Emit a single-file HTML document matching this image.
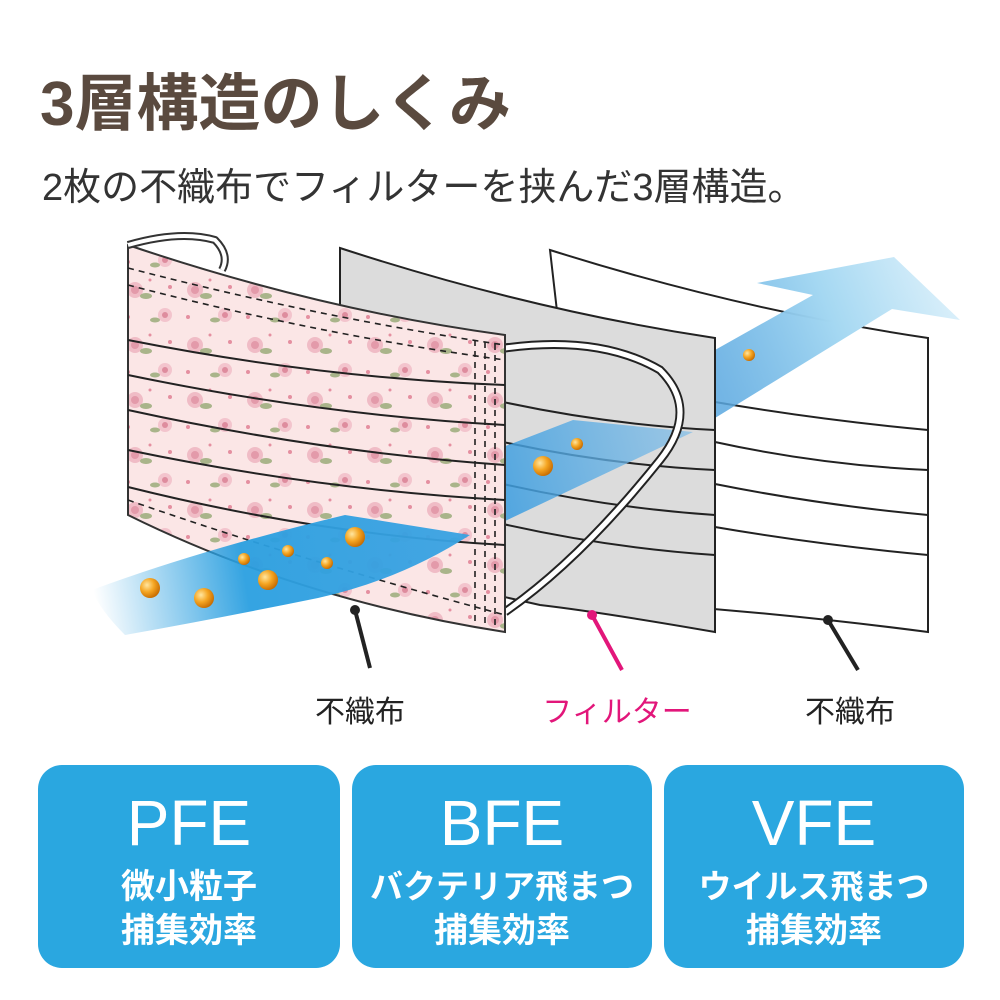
<!DOCTYPE html>
<html><head><meta charset="utf-8"><style>
body{margin:0;background:#fff;}
svg{display:block}
text{font-family:"Liberation Sans","Noto Sans CJK JP",sans-serif;}
</style></head><body>
<svg width="1000" height="1000" viewBox="0 0 1000 1000" xmlns="http://www.w3.org/2000/svg">
<defs>
<linearGradient id="ag1" x1="95" y1="600" x2="470" y2="540" gradientUnits="userSpaceOnUse">
<stop offset="0" stop-color="#2a9fe0" stop-opacity="0"/>
<stop offset="0.4" stop-color="#2a9fe0"/>
<stop offset="1" stop-color="#3aa2e2"/>
</linearGradient>
<linearGradient id="ag2" x1="503" y1="480" x2="690" y2="430" gradientUnits="userSpaceOnUse">
<stop offset="0" stop-color="#3d9ee0" stop-opacity="0.85"/>
<stop offset="1" stop-color="#7fbde8" stop-opacity="0.7"/>
</linearGradient>
<linearGradient id="ag3" x1="715" y1="380" x2="960" y2="280" gradientUnits="userSpaceOnUse">
<stop offset="0" stop-color="#5aa8e0" stop-opacity="0.85"/>
<stop offset="0.5" stop-color="#a5d8f2"/>
<stop offset="1" stop-color="#e0f2fb"/>
</linearGradient>
<pattern id="fl" width="60" height="55" patternUnits="userSpaceOnUse">
<rect width="60" height="55" fill="#fbe6e6"/>
<circle cx="15" cy="15" r="8" fill="#f0bcc6"/><circle cx="15" cy="15" r="4" fill="#e39aaa"/>
<ellipse cx="26" cy="21" rx="6" ry="3" fill="#a9b48a"/>
<circle cx="45" cy="40" r="7" fill="#f3c4cd"/><circle cx="45" cy="40" r="3" fill="#de8c9e"/>
<ellipse cx="35" cy="45" rx="5" ry="2.5" fill="#a9b48a"/>
<circle cx="50" cy="12" r="2" fill="#e58fa0"/><circle cx="8" cy="42" r="2" fill="#e58fa0"/><circle cx="30" cy="5" r="1.5" fill="#e58fa0"/>
</pattern>
<radialGradient id="ball" cx="0.35" cy="0.35" r="0.7">
<stop offset="0" stop-color="#ffe6a0"/><stop offset="0.5" stop-color="#f5a623"/><stop offset="1" stop-color="#c66a00"/>
</radialGradient>
</defs>
<text x="40" y="125" font-size="62" font-weight="bold" fill="#5a4a3f">3層構造のしくみ</text>
<text x="42" y="200" font-size="38" fill="#333">2枚の不織布でフィルターを挟んだ3層構造。</text>

<!-- white layer -->
<path d="M550 250 Q740 310 928 338 L928 632 Q760 610 590 600 Z" fill="#fff" stroke="#222" stroke-width="2"/>
<g fill="none" stroke="#222" stroke-width="2">
<path d="M715 402 Q820 420 928 430"/><path d="M715 442 Q820 465 928 470"/><path d="M715 484 Q820 505 928 515"/><path d="M715 527 Q820 545 928 555"/>
</g>
<!-- arrow after gray -->
<path d="M715 350 L813 295 L757 283 L894 257 L960 320 L892 309 L715 418 Z" fill="url(#ag3)"/>
<!-- gray layer -->
<path d="M340 248 Q530 310 715 338 L715 632 Q600 612 540 605 L340 560 Z" fill="#dcdcdc" stroke="#222" stroke-width="2"/>
<g fill="none" stroke="#222" stroke-width="2">
<path d="M503 402 Q610 425 715 430"/><path d="M503 442 Q610 465 715 470"/><path d="M503 484 Q610 508 715 515"/><path d="M503 524 Q610 548 715 555"/>
</g>
<!-- arrow in gray -->
<path d="M503 447 L573 420 L693 432 L503 522 Z" fill="url(#ag2)"/>
<!-- ear loop -->
<path d="M505 348 Q600 335 660 370 Q700 410 660 460 Q580 560 505 612" fill="none" stroke="#222" stroke-width="9"/>
<path d="M505 348 Q600 335 660 370 Q700 410 660 460 Q580 560 505 612" fill="none" stroke="#fff" stroke-width="5"/>
<!-- front floral layer -->
<path d="M128 245 Q320 310 505 335 L505 632 Q300 600 128 515 Z" fill="url(#fl)" stroke="#333" stroke-width="2"/>
<path d="M128 245 Q180 230 215 240 Q230 255 222 270" fill="none" stroke="#333" stroke-width="8"/>
<path d="M128 245 Q180 230 215 240 Q230 255 222 270" fill="none" stroke="#fff" stroke-width="4"/>
<g fill="none" stroke="#222" stroke-width="2">
<path d="M128 340 Q320 378 505 385"/><path d="M128 375 Q320 415 505 425"/><path d="M128 410 Q320 452 505 465"/><path d="M128 450 Q320 490 505 500"/><path d="M128 487 Q320 535 505 545"/>
</g>
<g fill="none" stroke="#222" stroke-width="1.6" stroke-dasharray="6 5">
<path d="M128 268 Q320 318 505 345"/><path d="M128 285 Q320 335 505 360"/>
<path d="M128 500 Q300 560 505 615"/>
<path d="M475 340 V625"/><path d="M485 342 V627"/><path d="M495 344 V629"/>
</g>
<!-- arrow front -->
<path d="M92 590 Q200 550 345 515 L470 535 Q400 580 318 598 Q220 618 125 635 Q100 610 92 590 Z" fill="url(#ag1)" opacity="0.95"/>
<!-- balls -->
<g fill="url(#ball)">
<circle cx="150" cy="588" r="10"/><circle cx="204" cy="598" r="10"/><circle cx="268" cy="580" r="10"/><circle cx="244" cy="559" r="6"/><circle cx="288" cy="551" r="6"/><circle cx="327" cy="563" r="6"/><circle cx="355" cy="537" r="10"/><circle cx="543" cy="466" r="10"/><circle cx="577" cy="444" r="6"/><circle cx="749" cy="355" r="6"/>
</g>
<!-- pointers -->
<line x1="355" y1="610" x2="370" y2="668" stroke="#222" stroke-width="4"/><circle cx="355" cy="610" r="5" fill="#222"/>
<line x1="592" y1="615" x2="622" y2="670" stroke="#e2167a" stroke-width="4"/><circle cx="592" cy="615" r="5" fill="#e2167a"/>
<line x1="828" y1="620" x2="858" y2="670" stroke="#222" stroke-width="4"/><circle cx="828" cy="620" r="5" fill="#222"/>
<text x="360" y="722" font-size="30" fill="#222" text-anchor="middle">不織布</text>
<text x="617" y="722" font-size="30" fill="#e2167a" text-anchor="middle">フィルター</text>
<text x="850" y="722" font-size="30" fill="#222" text-anchor="middle">不織布</text>
<!-- boxes -->
<g fill="#2aa7e0">
<rect x="38" y="765" width="302" height="203" rx="24"/>
<rect x="352" y="765" width="300" height="203" rx="24"/>
<rect x="664" y="765" width="300" height="203" rx="24"/>
</g>
<g fill="#fff" text-anchor="middle">
<text x="189" y="845" font-size="64">PFE</text>
<text x="189" y="898" font-size="34" font-weight="bold">微小粒子</text>
<text x="189" y="942" font-size="34" font-weight="bold">捕集効率</text>
<text x="502" y="845" font-size="64">BFE</text>
<text x="502" y="898" font-size="33" font-weight="bold">バクテリア飛まつ</text>
<text x="502" y="942" font-size="34" font-weight="bold">捕集効率</text>
<text x="814" y="845" font-size="64">VFE</text>
<text x="814" y="898" font-size="33" font-weight="bold">ウイルス飛まつ</text>
<text x="814" y="942" font-size="34" font-weight="bold">捕集効率</text>
</g>
</svg>
</body></html>
